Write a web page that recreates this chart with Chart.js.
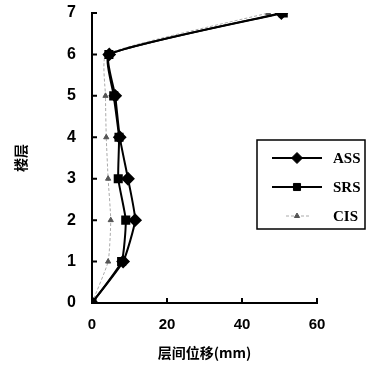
<!DOCTYPE html>
<html>
<head>
<meta charset="utf-8">
<script src="https://cdn.jsdelivr.net/npm/chart.js@4"></script>
<style>
  html, body { margin: 0; padding: 0; background: #fff; }
  #wrap { width: 370px; height: 368px; }
</style>
</head>
<body>
<div id="wrap"><canvas id="chart" width="370" height="368"></canvas></div>
<script>
// floors (y) and story drift values (x, mm)
var floors = [0, 1, 2, 3, 4, 5, 6, 7];
var assDrift = [0, 8.3, 11.5, 9.6, 7.4, 6.2, 4.6, 50.5];
var srsDrift = [0, 7.9, 9.0, 7.0, 7.2, 5.8, 4.5, 51];
var cisDrift = [0, 4.3, 5.0, 4.3, 3.8, 3.6, 3.8, 47];
var seriesNames = ["ASS", "SRS", "CIS"];
var xTicks = [0, 20, 40, 60];

function toPoints(vals) {
  return vals.map(function (v, i) { return { x: v, y: floors[i] }; });
}

// inward tick marks on both axes
const innerTicks = {
  id: 'innerTicks',
  afterDraw: (chart) => {
    const { ctx, scales } = chart;
    const xs = scales.x, ys = scales.y;
    ctx.save();
    ctx.strokeStyle = '#000';
    ctx.lineWidth = 2;
    ctx.beginPath();
    floors.forEach((f) => {
      const py = ys.getPixelForValue(f);
      ctx.moveTo(xs.left, py);
      ctx.lineTo(xs.left + 5, py);
    });
    xTicks.forEach((t) => {
      const px = xs.getPixelForValue(t);
      ctx.moveTo(px, ys.bottom);
      ctx.lineTo(px, ys.bottom - 5);
    });
    ctx.stroke();
    ctx.restore();
  }
};

// boxed legend sitting over the plot
const boxLegend = {
  id: 'boxLegend',
  afterDraw: (chart) => {
    const ctx = chart.ctx;
    const bx = 257, by = 140, bw = 108, bh = 89;
    ctx.save();
    ctx.fillStyle = '#fff';
    ctx.fillRect(bx, by, bw, bh);
    ctx.strokeStyle = '#000';
    ctx.lineWidth = 1.5;
    ctx.strokeRect(bx, by, bw, bh);
    const rows = [158, 187, 216];
    chart.data.datasets.forEach((ds, i) => {
      const y = rows[i];
      ctx.save();
      ctx.strokeStyle = ds.borderColor;
      ctx.lineWidth = ds.borderWidth;
      ctx.setLineDash(ds.borderDash || []);
      ctx.beginPath();
      ctx.moveTo(i == 2 ? 286 : 272, y);
      ctx.lineTo(i == 2 ? 310 : 322, y);
      ctx.stroke();
      ctx.restore();
      ctx.save();
      ctx.fillStyle = ds.pointBackgroundColor;
      ctx.strokeStyle = ds.pointBorderColor || ds.pointBackgroundColor;
      ctx.lineWidth = 1;
      Chart.helpers.drawPoint(ctx, {
        pointStyle: ds.pointStyle,
        radius: ds.pointRadius,
        borderWidth: 1
      }, 297, y);
      ctx.restore();
      ctx.fillStyle = '#000';
      ctx.font = 'bold 15px "Liberation Serif"';
      ctx.textAlign = 'left';
      ctx.textBaseline = 'middle';
      ctx.fillText(ds.label, 333, y + 1);
    });
    ctx.restore();
  }
};

const datasets = [
  {
    label: seriesNames[0],
    data: toPoints(assDrift),
    borderColor: '#000',
    backgroundColor: '#000',
    borderWidth: 2,
    pointStyle: 'rectRot',
    pointRadius: 5.5,
    pointBackgroundColor: '#000',
    pointBorderColor: '#000',
    tension: 0.15
  },
  {
    label: seriesNames[1],
    data: toPoints(srsDrift),
    borderColor: '#000',
    backgroundColor: '#000',
    borderWidth: 2,
    pointStyle: 'rect',
    pointRadius: 5,
    pointBackgroundColor: '#000',
    pointBorderColor: '#000',
    tension: 0.15
  },
  {
    label: seriesNames[2],
    data: toPoints(cisDrift),
    borderColor: '#aaa',
    backgroundColor: '#555',
    borderWidth: 1,
    borderDash: [3, 2],
    pointStyle: 'triangle',
    pointRadius: 3,
    pointBackgroundColor: '#555',
    pointBorderColor: '#555',
    tension: 0.15
  }
];

new Chart(document.getElementById('chart'), {
  type: 'line',
  data: { datasets: datasets },
  options: {
    responsive: false,
    animation: false,
    layout: { padding: { left: 0, top: 13, right: 53, bottom: 0 } },
    plugins: { legend: { display: false }, tooltip: { enabled: false } },
    scales: {
      x: {
        type: 'linear',
        min: 0,
        max: 60,
        afterFit: (s) => { s.height = 65; s.paddingLeft = 0; s.paddingRight = 0; },
        afterBuildTicks: (s) => { s.ticks = xTicks.map((v) => ({ value: v })); },
        grid: { display: false, drawTicks: false },
        border: { color: '#000', width: 2 },
        ticks: { color: '#000', padding: 13, font: { family: 'Liberation Sans', size: 15, weight: 'bold' } },
        title: {
          display: true,
          text: '层间位移(mm)',
          color: '#000',
          font: { family: 'Noto Sans CJK SC', size: 14, weight: 'bold' },
          padding: { top: 0, bottom: 7 }
        }
      },
      y: {
        type: 'linear',
        min: 0,
        max: 7,
        afterFit: (s) => { s.width = 92; s.paddingTop = 0; s.paddingBottom = 0; },
        afterBuildTicks: (s) => { s.ticks = floors.map((v) => ({ value: v })); },
        grid: { display: false, drawTicks: false },
        border: { color: '#000', width: 2 },
        ticks: { color: '#000', padding: 16, font: { family: 'Liberation Sans', size: 16, weight: 'bold' } },
        title: {
          display: true,
          text: '楼层',
          color: '#000',
          font: { family: 'Noto Sans CJK SC', size: 14, weight: 'bold' },
          padding: { top: 12, bottom: 0 }
        }
      }
    }
  },
  plugins: [innerTicks, boxLegend]
});
</script>
</body>
</html>
